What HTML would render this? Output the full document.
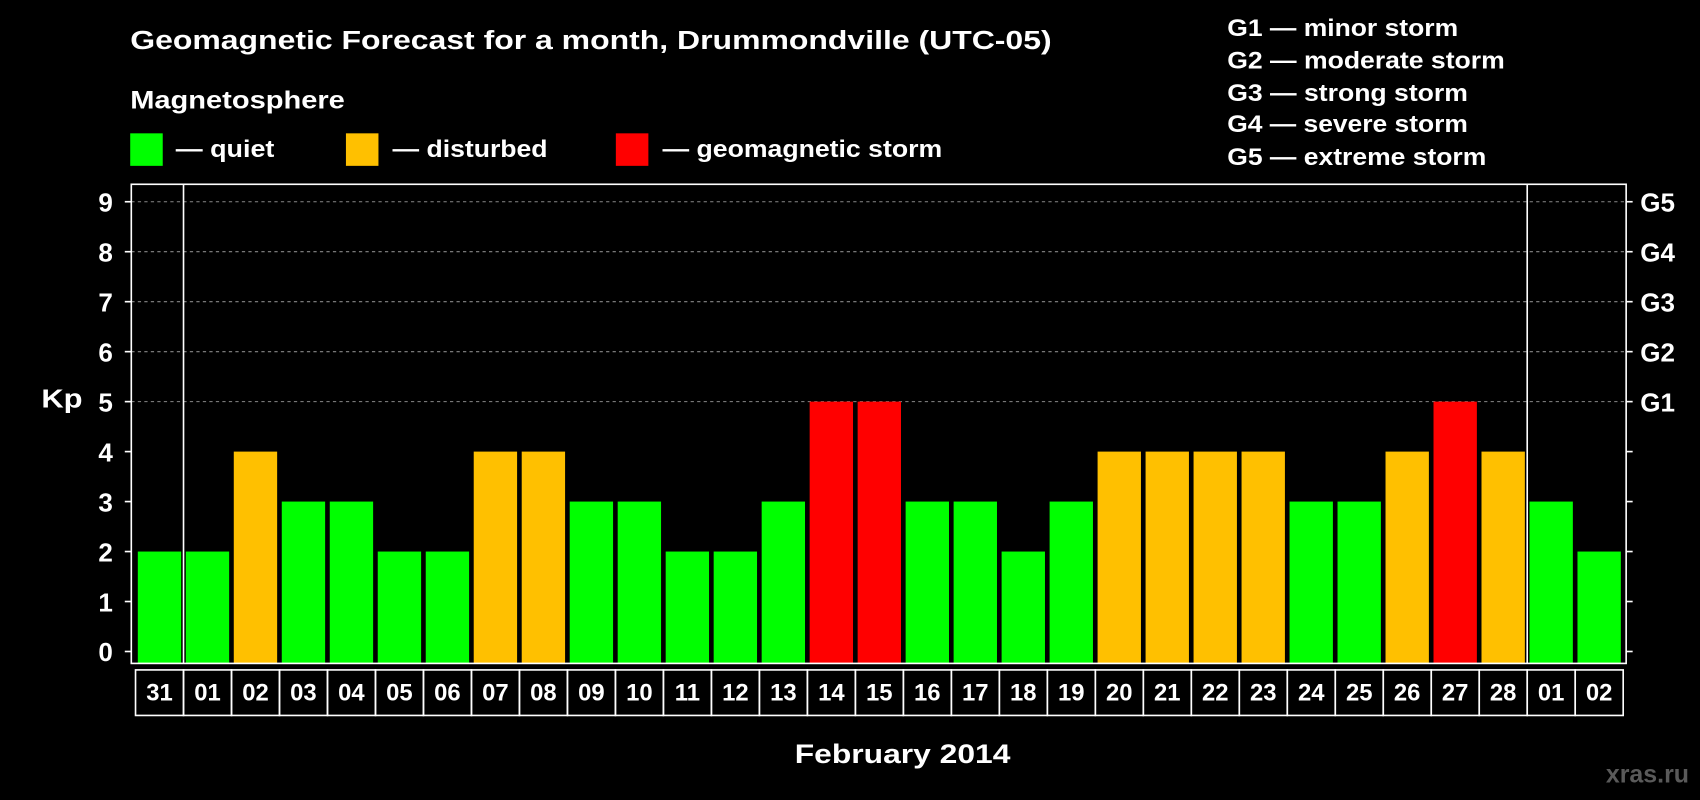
<!DOCTYPE html>
<html><head><meta charset="utf-8"><style>
html,body{margin:0;padding:0;background:#000;}
svg{display:block;}
text{font-family:"Liberation Sans",sans-serif;fill:#fff;font-weight:bold;}
</style></head><body>
<svg id="chart" width="1700" height="800" viewBox="0 0 1568 738" xmlns="http://www.w3.org/2000/svg">
<rect width="1568" height="738" fill="#000"/>
<text x="120" y="45" font-size="24" textLength="850" lengthAdjust="spacingAndGlyphs">Geomagnetic Forecast for a month, Drummondville (UTC-05)</text>
<text x="120" y="100" font-size="23" textLength="198" lengthAdjust="spacingAndGlyphs">Magnetosphere</text>
<g><rect x="120" y="123" width="30" height="30" fill="#00ff00"/><text x="162" y="145" font-size="22" textLength="91" lengthAdjust="spacingAndGlyphs">— quiet</text></g>
<g><rect x="319" y="123" width="30" height="30" fill="#ffc000"/><text x="362" y="145" font-size="22" textLength="143" lengthAdjust="spacingAndGlyphs">— disturbed</text></g>
<g><rect x="568" y="123" width="30" height="30" fill="#ff0000"/><text x="611" y="145" font-size="22" textLength="258" lengthAdjust="spacingAndGlyphs">— geomagnetic storm</text></g>
<g font-size="22">
<text x="1132" y="33" textLength="213" lengthAdjust="spacingAndGlyphs">G1 — minor storm</text>
<text x="1132" y="63" textLength="256" lengthAdjust="spacingAndGlyphs">G2 — moderate storm</text>
<text x="1132" y="93" textLength="222" lengthAdjust="spacingAndGlyphs">G3 — strong storm</text>
<text x="1132" y="122" textLength="222" lengthAdjust="spacingAndGlyphs">G4 — severe storm</text>
<text x="1132" y="152" textLength="239" lengthAdjust="spacingAndGlyphs">G5 — extreme storm</text>
</g>
<text x="38" y="376" font-size="24" textLength="38" lengthAdjust="spacingAndGlyphs">Kp</text>
<text x="733" y="704" font-size="25" textLength="199" lengthAdjust="spacingAndGlyphs">February 2014</text>
<text x="1558" y="722" font-size="23" text-anchor="end" style="fill:#5a5a5a">xras.ru</text>
<g id="plot"></g>
</svg>
<script>
const days=["31","01","02","03","04","05","06","07","08","09","10","11","12","13","14","15","16","17","18","19","20","21","22","23","24","25","26","27","28","01","02"];
const kp=[2,2,4,3,3,2,2,4,4,3,3,2,2,3,5,5,3,3,2,3,4,4,4,4,3,3,4,5,4,3,2];
const yTicks=[0,1,2,3,4,5,6,7,8,9];
const gLabels=["G1","G2","G3","G4","G5"];
const NS="http://www.w3.org/2000/svg";
const g=document.getElementById('plot');
const L=121,R=1500,T=170,B=612,x0=127,slot=44.27,bw=40;
const y=v=>601-v*46.1;
const xs=i=>x0+i*slot;
function mk(t,a){const e=document.createElementNS(NS,t);for(const k in a)e.setAttribute(k,a[k]);g.appendChild(e);return e;}
const color=v=>v>=5?"#ff0000":v>=4?"#ffc000":"#00ff00";
yTicks.forEach(v=>{
 if(v>=5){const l=mk('line',{x1:L,x2:R,y1:y(v),y2:y(v),stroke:'#888','stroke-dasharray':'3,3','stroke-width':1});
 }
 const t1=mk('line',{x1:L-6,x2:L,y1:y(v),y2:y(v),stroke:'#fff','stroke-width':1.5});
 
 const t2=mk('line',{x1:R,x2:R+6,y1:y(v),y2:y(v),stroke:'#fff','stroke-width':1.5});
 
 const tx=mk('text',{x:104,y:y(v)+9,'font-size':24,'text-anchor':'end'});tx.textContent=v;
 
});
gLabels.forEach((s,i)=>{const tx=mk('text',{x:1513,y:y(5+i)+9,'font-size':24});tx.textContent=s;
 });
kp.forEach((v,i)=>{
 const r=mk('rect',{x:xs(i),y:y(v),width:bw,height:612-y(v),fill:color(v)});
 
 const bx=mk('rect',{x:xs(i)-2.1,y:618,width:slot,height:42,fill:'none',stroke:'#fff','stroke-width':1.5});
 
 const tx=mk('text',{x:xs(i)+bw/2,y:646,'font-size':22,'text-anchor':'middle'});tx.textContent=days[i];
 
});
const f=mk('rect',{x:L,y:T,width:R-L,height:B-T,fill:'none',stroke:'#fff','stroke-width':1.5});

[1,29].forEach(i=>{const l=mk('line',{x1:xs(i)-2.1,x2:xs(i)-2.1,y1:T,y2:B,stroke:'#fff','stroke-width':1.5});
 });
</script>
</body></html>
